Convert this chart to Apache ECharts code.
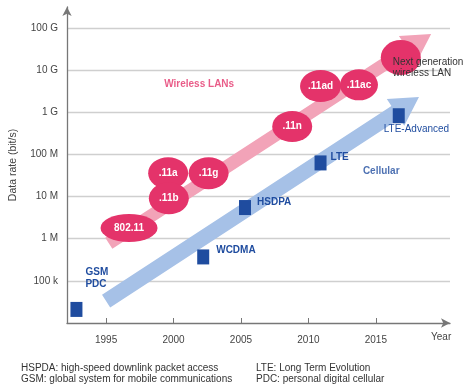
<!DOCTYPE html>
<html><head><meta charset="utf-8">
<script src="https://cdn.jsdelivr.net/npm/echarts@6/dist/echarts.min.js"></script>
<style>html,body{margin:0;padding:0;background:#fff}#c{width:466px;height:390px}</style>
</head><body><div id="c"></div>
<script>
// ---- data ----
const yTickValues = [1e5, 1e6, 1e7, 1e8, 1e9, 1e10, 1e11];
const yTickLabels = ['100 k', '1 M', '10 M', '100 M', '1 G', '10 G', '100 G'];
const xTickYears = [1995, 2000, 2005, 2010, 2015];

const wlanNames = ['802.11', '.11a', '.11b', '.11g', '.11n', '.11ad', '.11ac', 'Next generation\nwireless LAN'];
const wlanYears = [1996.7, 1999.6, 1999.65, 2002.6, 2008.8, 2010.9, 2013.75, 2016.85];
const wlanRates = [1.8e6, 3.6e7, 9.1e6, 3.6e7, 4.6e8, 4.2e9, 4.5e9, 2.0e10];

const cellNames = ['GSM\nPDC', 'WCDMA', 'HSDPA', 'LTE', 'LTE-Advanced'];
const cellYears = [1992.8, 2002.2, 2005.3, 2010.9, 2016.7];
const cellRates = [2.1e4, 3.7e5, 5.5e6, 6.3e7, 8.3e8];

const wlanTrend = [[1995.2, 7.8e5], [2019.1, 7.2e10]];
const cellTrend = [[1995.0, 3.3e4], [2018.2, 2.3e9]];

const groupLabels = ['Wireless LANs', 'Cellular'];
const groupYears = [2001.9, 2015.4];
const groupRates = [4.7e9, 3.9e7];

const footLeft = ['HSPDA: high-speed downlink packet access', 'GSM: global system for mobile communications'];
const footRight = ['LTE: Long Term Evolution', 'PDC: personal digital cellular'];

// ---- styles ----
const PINK = '#e4336a', PINK_BAND = '#f2a3b8', BLUE = '#1f4c9f', BLUE_BAND = '#a6c1e7';
const FONT = '"Liberation Sans", Arial, sans-serif';
const FS = 10;
const ellipseSize = { '802.11': [57, 28], '.11a': [40, 32], '.11b': [40, 32], '.11g': [40, 32], '.11n': [40, 31], '.11ad': [41, 32], '.11ac': [38, 31] };
const cellLabelPos = { 'GSM\nPDC': [15, -24], 'WCDMA': [19, 1], 'HSDPA': [18, 2], 'LTE': [16, 2], 'LTE-Advanced': [-9, 21] };

const lg = v => Math.log10(v);
const lookup = {};
yTickValues.forEach((v, i) => lookup[Math.round(lg(v))] = yTickLabels[i]);

function arrowItem(color, bandW, headHalf, headLen) {
  return function (params, api) {
    const a = api.coord([api.value(0), api.value(1)]);
    const b = api.coord([api.value(2), api.value(3)]);
    const dx = b[0] - a[0], dy = b[1] - a[1], L = Math.hypot(dx, dy);
    const ux = dx / L, uy = dy / L, nx = -uy, ny = ux;
    const bx = b[0] - ux * headLen, by = b[1] - uy * headLen, h = bandW / 2;
    return {
      type: 'polygon',
      shape: { points: [
        [a[0] + nx * h, a[1] + ny * h], [bx + nx * h, by + ny * h], [bx + nx * headHalf, by + ny * headHalf],
        [b[0], b[1]], [bx - nx * headHalf, by - ny * headHalf], [bx - nx * h, by - ny * h], [a[0] - nx * h, a[1] - ny * h]
      ] },
      style: { fill: color }
    };
  };
}

const wlanData = wlanNames.map((n, i) => {
  const next = !ellipseSize[n];
  return {
    name: n, value: [wlanYears[i], lg(wlanRates[i])],
    symbolSize: next ? [40, 35] : ellipseSize[n],
    label: next ? { show: true, formatter: n, position: [12, 28], align: 'left', verticalAlign: 'middle',
      color: '#333', fontWeight: 'normal', fontSize: FS, lineHeight: 11 } : undefined
  };
});
const cellData = cellNames.map((n, i) => ({
  name: n, value: [cellYears[i], lg(cellRates[i])],
  label: { position: cellLabelPos[n], fontWeight: n === 'LTE-Advanced' ? 'normal' : 'bold' }
}));

const chart = echarts.init(document.getElementById('c'), null, { renderer: 'canvas' });
chart.setOption({
  animation: false,
  textStyle: { fontFamily: FONT },
  grid: { left: 65, right: 16, top: 7, bottom: 67 },
  xAxis: {
    type: 'value', min: 1992.1, max: 2020.5,
    axisLine: { show: true, lineStyle: { color: '#777', width: 1.3 }, symbol: ['none', 'arrow'], symbolSize: [7, 9] },
    axisTick: { show: true, inside: true, length: 5, customValues: xTickYears, lineStyle: { color: '#777' } },
    axisLabel: { customValues: xTickYears, margin: 12, color: '#444', fontSize: FS, fontFamily: FONT, formatter: v => String(v) },
    splitLine: { show: false }
  },
  yAxis: {
    type: 'value', min: 4, max: 11.5, interval: 1,
    name: 'Data rate (bit/s)', nameLocation: 'middle', nameGap: 48,
    nameTextStyle: { color: '#444', fontSize: 10.5, fontFamily: FONT },
    axisLine: { show: true, lineStyle: { color: '#777', width: 1.3 }, symbol: ['none', 'arrow'], symbolSize: [7, 9] },
    axisTick: { show: false },
    axisLabel: { margin: 9, color: '#444', fontSize: FS, fontFamily: FONT, showMaxLabel: false, showMinLabel: false,
      formatter: v => lookup[v] || '' },
    splitLine: { show: true, showMinLine: false, showMaxLine: false, lineStyle: { color: '#cfcfcf', width: 1.3 } }
  },
  series: [
    { type: 'custom', z: 1, renderItem: arrowItem(PINK_BAND, 13, 16, 28), encode: { x: [0, 2], y: [1, 3] },
      data: [[wlanTrend[0][0], lg(wlanTrend[0][1]), wlanTrend[1][0], lg(wlanTrend[1][1])]], silent: true },
    { type: 'custom', z: 1, renderItem: arrowItem(BLUE_BAND, 15, 16, 28), encode: { x: [0, 2], y: [1, 3] },
      data: [[cellTrend[0][0], lg(cellTrend[0][1]), cellTrend[1][0], lg(cellTrend[1][1])]], silent: true },
    { type: 'scatter', z: 3, symbol: 'circle', itemStyle: { color: PINK, opacity: 1 },
      label: { show: true, position: 'inside', formatter: '{b}', color: '#fff', fontWeight: 'bold', fontSize: FS, fontFamily: FONT },
      data: wlanData },
    { type: 'scatter', z: 3, symbol: 'rect', symbolSize: [12, 15], itemStyle: { color: BLUE, opacity: 1 },
      label: { show: true, formatter: '{b}', color: BLUE, fontSize: FS, lineHeight: 12, align: 'left', verticalAlign: 'middle', fontFamily: FONT },
      data: cellData },
    { type: 'scatter', z: 4, symbolSize: 0, silent: true,
      label: { show: true, position: 'inside', formatter: '{b}', fontWeight: 'bold', fontSize: FS, fontFamily: FONT },
      data: groupLabels.map((n, i) => ({ name: n, value: [groupYears[i], lg(groupRates[i])],
        label: { color: i === 0 ? PINK : BLUE } })) }
  ],
  graphic: [
    { type: 'text', left: 431, top: 332, style: { text: 'Year', fill: '#444', font: '10px ' + FONT } },
    { type: 'text', left: 21, top: 362, style: { text: footLeft.join('\n'), fill: '#333', font: '10px ' + FONT, lineHeight: 11.5 } },
    { type: 'text', left: 256, top: 362, style: { text: footRight.join('\n'), fill: '#333', font: '10px ' + FONT, lineHeight: 11.5 } }
  ]
});
</script></body></html>
